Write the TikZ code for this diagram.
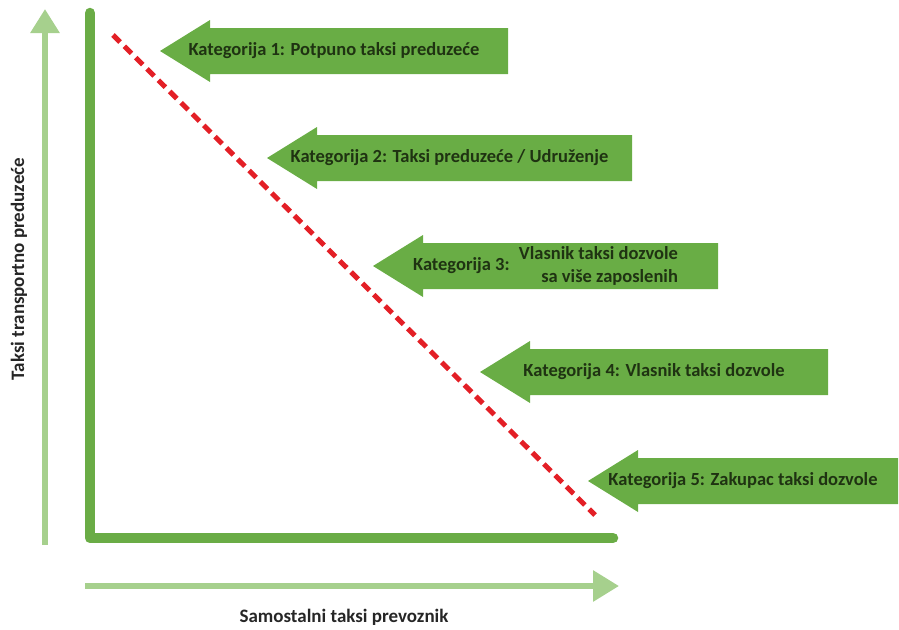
\documentclass[tikz,border=0pt]{standalone}
\usepackage{fontspec}
\setmainfont{Carlito}
\usetikzlibrary{arrows.meta}
\definecolor{catgreen}{HTML}{69AD45}
\definecolor{axisgreen}{HTML}{6AAC46}
\definecolor{palegreen}{HTML}{A6D08D}
\definecolor{labeldark}{HTML}{1F3312}
\definecolor{divred}{HTML}{E31F26}
\begin{document}
\begin{tikzpicture}[x=1pt,y=-1pt,
  catlabel/.style={font=\fontsize{18.5}{23}\selectfont\bfseries, text=labeldark, inner sep=0pt},
  axislabel/.style={font=\fontsize{19}{23}\selectfont\bfseries, text=black!85, inner sep=0pt},
  frameline/.style={draw=axisgreen, line width=10.5pt, line cap=round, line join=round},
  paleaxis/.style={draw=palegreen, line width=6pt},
  divider/.style={draw=divred, line width=5pt, dash pattern=on 10pt off 6pt}]
\useasboundingbox (0,0) rectangle (899,629);

% pale direction arrows with their labels
\coordinate (vstart) at (45,545);
\coordinate (vend) at (45,9);
\draw[paleaxis, -{Triangle[width=28pt,length=24pt]}] (vstart) -- (vend);
\coordinate (hstart) at (85,586);
\coordinate (hend) at (619,586);
\draw[paleaxis, -{Triangle[width=30pt,length=26pt]}] (hstart) -- (hend);
\node[axislabel, rotate=90] (ylab) at (19,269) {Taksi transportno preduzeće};
\node[axislabel] (xlab) at (344,617) {Samostalni taksi prevoznik};

% main L-shaped frame
\coordinate (ftop) at (90,13);
\coordinate (fcorner) at (90,538);
\coordinate (fright) at (613,538);
\draw[frameline] (ftop) -- (fcorner) -- (fright);

% dashed diagonal divider
\coordinate (dstart) at (113,35);
\coordinate (dend) at (595,515);
\draw[divider] (dstart) -- (dend);

% category arrows: tip x / centre y / right end x
\foreach \tip/\cy/\rx/\name in {160/51/508/cat1, 267/158/632/cat2, 373/266/718/cat3, 480/372/828/cat4, 588/481/898/cat5}{
  \fill[catgreen] (\tip,\cy) -- (\tip+50,\cy-31) -- (\tip+50,\cy-23) -- (\rx,\cy-23)
    -- (\rx,\cy+23) -- (\tip+50,\cy+23) -- (\tip+50,\cy+31) -- cycle;
  \coordinate (\name) at ({(\tip+\rx)/2},\cy);
}
\node[catlabel] (t1) at (cat1) {Kategorija 1: Potpuno taksi preduzeće};
\node[catlabel] (t2) at (cat2) {Kategorija 2: Taksi preduzeće / Udruženje};
\node[catlabel] (t3) at (cat3) {Kategorija 3:\enspace\begin{tabular}{@{}r@{}}Vlasnik taksi dozvole\\ sa više zaposlenih\end{tabular}};
\node[catlabel] (t4) at (cat4) {Kategorija 4: Vlasnik taksi dozvole};
\node[catlabel] (t5) at (cat5) {Kategorija 5: Zakupac taksi dozvole};
\end{tikzpicture}
\end{document}
